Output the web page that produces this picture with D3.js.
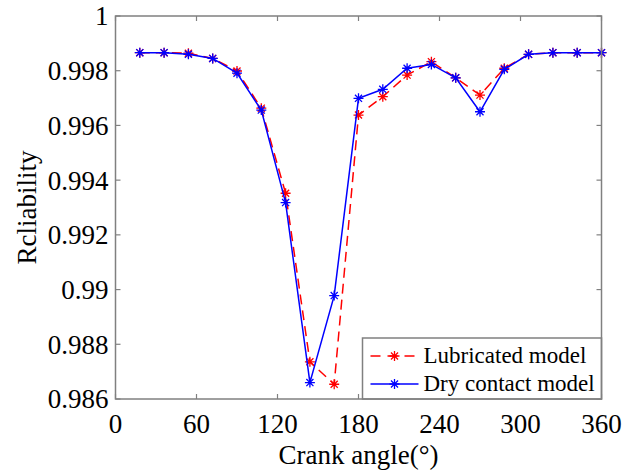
<!DOCTYPE html>
<html>
<head>
<meta charset="utf-8">
<script src="https://cdn.jsdelivr.net/npm/d3@7"></script>
<style>
  body { margin: 0; background: #fff; }
</style>
</head>
<body>
<svg width="624" height="473"></svg>
<script>
var angles = [18, 36, 54, 72, 90, 108, 126, 144, 162, 180, 198, 216, 234, 252, 270, 288, 306, 324, 342, 360];
var lubricated = [0.99866, 0.99866, 0.99864, 0.99845, 0.99799, 0.99663, 0.99352, 0.98736, 0.98654, 0.99638,
                  0.99705, 0.99784, 0.99833, 0.99774, 0.99711, 0.99809, 0.9986, 0.99866, 0.99866, 0.99866];
var dry = [0.99866, 0.99866, 0.9986, 0.99845, 0.99791, 0.99656, 0.99318, 0.98660, 0.98978, 0.99699,
           0.99732, 0.99809, 0.99823, 0.99774, 0.99650, 0.99805, 0.9986, 0.99866, 0.99866, 0.99866];
var xTicks = [0, 60, 120, 180, 240, 300, 360];
var yTicks = [0.986, 0.988, 0.99, 0.992, 0.994, 0.996, 0.998, 1];
var yTickLabels = ["0.986", "0.988", "0.99", "0.992", "0.994", "0.996", "0.998", "1"];
var seriesNames = ["Lubricated model", "Dry contact model"];

var serif = "'Liberation Serif', 'Times New Roman', Times, 'DejaVu Serif', serif";

var svg = d3.select("svg").attr("font-family", serif),
    margin = {top: 16, right: 22.5, bottom: 74, left: 115.5},
    width = 624 - margin.left - margin.right,
    height = 473 - margin.top - margin.bottom,
    g = svg.append("g").attr("transform", "translate(" + margin.left + "," + margin.top + ")");

var axisColor = "#808080";

var x = d3.scaleLinear().domain([0, 360]).range([0, width]);
var y = d3.scaleLinear().domain([0.986, 1]).range([height, 0]);

// ticks (inward, all four sides)
g.selectAll(".xt").data(xTicks).enter().append("line")
    .attr("x1", function(d) { return x(d); }).attr("x2", function(d) { return x(d); })
    .attr("y1", height).attr("y2", height - 5)
    .attr("stroke", axisColor).attr("stroke-width", 1.2);
g.selectAll(".xt2").data(xTicks).enter().append("line")
    .attr("x1", function(d) { return x(d); }).attr("x2", function(d) { return x(d); })
    .attr("y1", 0).attr("y2", 5)
    .attr("stroke", axisColor).attr("stroke-width", 1.2);
g.selectAll(".yt").data(yTicks).enter().append("line")
    .attr("x1", 0).attr("x2", 5)
    .attr("y1", function(d) { return y(d); }).attr("y2", function(d) { return y(d); })
    .attr("stroke", axisColor).attr("stroke-width", 1.2);
g.selectAll(".yt2").data(yTicks).enter().append("line")
    .attr("x1", width).attr("x2", width - 5)
    .attr("y1", function(d) { return y(d); }).attr("y2", function(d) { return y(d); })
    .attr("stroke", axisColor).attr("stroke-width", 1.2);

// tick labels
g.selectAll(".xl").data(xTicks).enter().append("text")
    .attr("x", function(d) { return x(d); })
    .attr("y", height + 34)
    .attr("text-anchor", "middle")
    .attr("font-family", serif)
    .attr("font-size", 27)
    .text(function(d) { return d; });
g.selectAll(".yl").data(yTicks).enter().append("text")
    .attr("x", -7)
    .attr("y", function(d) { return y(d); })
    .attr("dy", "0.35em")
    .attr("text-anchor", "end")
    .attr("font-family", serif)
    .attr("font-size", 27)
    .text(function(d, i) { return yTickLabels[i]; });

// axis titles
svg.append("text")
    .attr("transform", "translate(" + (margin.left + width / 2) + "," + 464 + ")")
    .attr("text-anchor", "middle")
    .attr("font-family", serif)
    .attr("font-size", 27)
    .text("Crank angle(°)");
svg.append("text")
    .attr("transform", "translate(36," + (margin.top + height / 2) + ") rotate(-90)")
    .attr("text-anchor", "middle")
    .attr("font-family", serif)
    .attr("font-size", 27)
    .text("Rcliability");

// series
function star(sel, color) {
  var r = 5, d = r * Math.SQRT1_2;
  sel.append("path")
    .attr("d", "M" + (-r) + ",0L" + r + ",0M0," + (-r) + "L0," + r +
               "M" + (-d) + "," + (-d) + "L" + d + "," + d + "M" + (-d) + "," + d + "L" + d + "," + (-d))
    .attr("stroke", color).attr("stroke-width", 1.3).attr("fill", "none");
}

var line = d3.line()
    .x(function(d) { return x(d[0]); })
    .y(function(d) { return y(d[1]); });

var series = [
  {name: seriesNames[0], values: lubricated, color: "#ff0000", dash: "10,6"},
  {name: seriesNames[1], values: dry, color: "#0000ff", dash: null}
];

series.forEach(function(s) {
  var pts = angles.map(function(a, i) { return [a, s.values[i]]; });
  g.append("path")
    .datum(pts)
    .attr("d", line)
    .attr("fill", "none")
    .attr("stroke", s.color)
    .attr("stroke-width", 1.5)
    .attr("stroke-dasharray", s.dash);
  g.selectAll(null).data(pts).enter().append("g")
    .attr("transform", function(d) { return "translate(" + x(d[0]) + "," + y(d[1]) + ")"; })
    .each(function() { star(d3.select(this), s.color); });
});

// legend
var lg = g.append("g").attr("transform", "translate(" + (width - 239) + "," + (height - 61) + ")");
lg.append("rect")
    .attr("width", 239).attr("height", 61)
    .attr("fill", "#fff").attr("stroke", axisColor).attr("stroke-width", 1.5);
series.forEach(function(s, i) {
  var row = lg.append("g").attr("transform", "translate(0," + (18 + i * 28) + ")");
  row.append("line")
    .attr("x1", 8).attr("x2", 56).attr("y1", 0).attr("y2", 0)
    .attr("stroke", s.color).attr("stroke-width", 1.5)
    .attr("stroke-dasharray", s.dash ? "10,7" : null);
  star(row.append("g").attr("transform", "translate(32,0)"), s.color);
  row.append("text")
    .attr("x", 61).attr("y", 0).attr("dy", "0.32em")
    .attr("font-family", serif)
    .attr("font-size", 23)
    .text(s.name);
});

// box
g.append("rect")
    .attr("width", width).attr("height", height)
    .attr("fill", "none").attr("stroke", axisColor).attr("stroke-width", 1.5);
</script>
</body>
</html>
